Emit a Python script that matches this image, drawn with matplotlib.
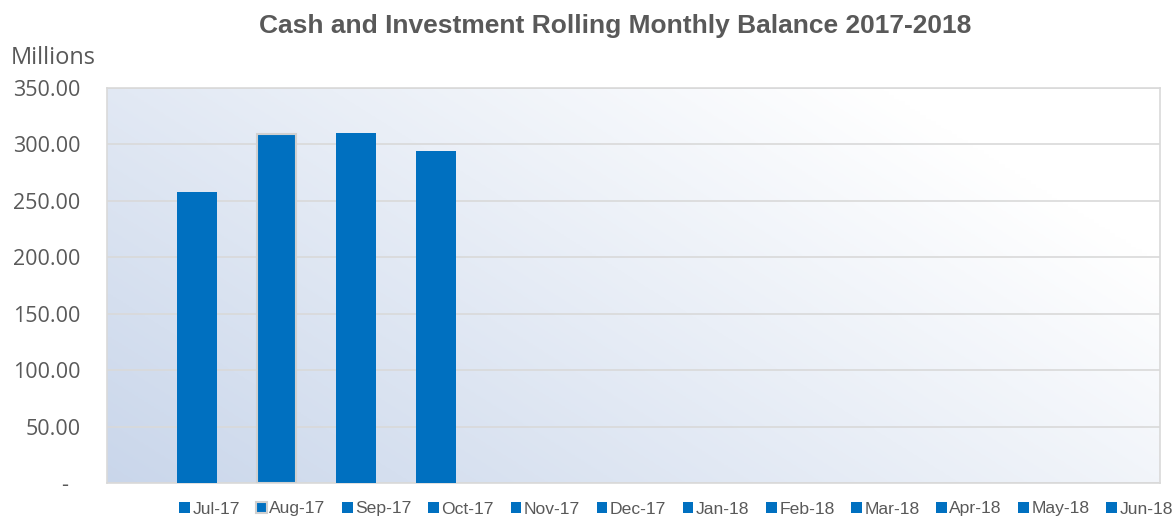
import numpy as np
import matplotlib.pyplot as plt
from matplotlib.ticker import FuncFormatter

months = ['Jul-17', 'Aug-17', 'Sep-17', 'Oct-17', 'Nov-17', 'Dec-17',
          'Jan-18', 'Feb-18', 'Mar-18', 'Apr-18', 'May-18', 'Jun-18']
balance = [257.5, 309.0, 309.8, 294.6, None, None,
           None, None, None, None, None, None]
yticks = [0, 50, 100, 150, 200, 250, 300, 350]

blue = '#0070C0'
grey = '#595959'

fig = plt.figure(figsize=(11.73, 5.17), dpi=100)
ax = fig.add_axes([107/1173, 1 - 483/517, 1053/1173, 395/517])

# gradient background: light steel blue bottom-left -> white top-right
n = 200
gx, gy = np.meshgrid(np.linspace(0, 1, n), np.linspace(0, 1, n))
t = np.clip(gx * 0.75 + gy * 0.45, 0, 1)
c0 = np.array([0.79, 0.84, 0.92])
c1 = np.array([1.0, 1.0, 1.0])
img = c0[None, None, :] * (1 - t[..., None]) + c1[None, None, :] * t[..., None]
ax.imshow(img, origin='lower', extent=[0, 1, 0, 1], transform=ax.transAxes,
          aspect='auto', zorder=0)

for i, (m, v) in enumerate(zip(months, balance)):
    h = np.nan if v is None else v
    if m == 'Aug-17':
        ax.bar(i, h, width=0.5, color=blue, edgecolor='#D0D0D0', linewidth=1.5,
               label=m, zorder=3)
    else:
        ax.bar(i, h, width=0.5, color=blue, label=m, zorder=3)

ax.set_xlim(-1.13, 12.1)
ax.set_ylim(0, 350)
ax.set_yticks(yticks)
ax.yaxis.set_major_formatter(FuncFormatter(
    lambda v, p: '-  ' if v == 0 else f'{v:.2f}'))
ax.grid(axis='y', color='#D9D9D9', linewidth=1.2, zorder=1)
ax.set_axisbelow(True)
ax.set_xticks([])
ax.tick_params(axis='y', length=0, pad=19, labelsize=15.5, labelcolor=grey)
for lab in ax.get_yticklabels():
    lab.set_fontfamily('Open Sans')
for s in ax.spines.values():
    s.set_color('#D9D9D9')
    s.set_linewidth(1.2)

fig.text(11/1173, 1 - 58/517, 'Millions', fontsize=17, color=grey,
         family='Open Sans', va='center', ha='left')
fig.text(615/1173, 1 - 26/517, 'Cash and Investment Rolling Monthly Balance 2017-2018',
         fontsize=19, fontweight='bold', color=grey, family='Liberation Sans',
         ha='center', va='center')

leg = fig.legend(loc='center', bbox_to_anchor=(676/1173, 1 - 509/517), ncol=12,
                 frameon=False, handlelength=0.6, handleheight=0.6,
                 handletextpad=0.15, columnspacing=0.95, borderaxespad=0,
                 prop={'family': 'Liberation Sans', 'size': 12.6})
for txt in leg.get_texts():
    txt.set_color(grey)

fig.savefig('out.png', dpi=100)
